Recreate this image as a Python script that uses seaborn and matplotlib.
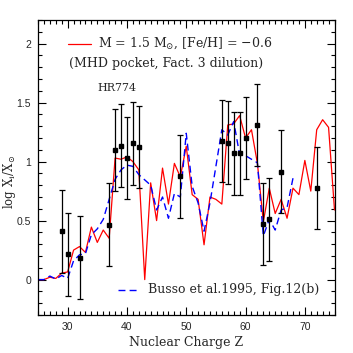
import numpy as np
import pandas as pd
import matplotlib
matplotlib.use("Agg")
import matplotlib.pyplot as plt
import seaborn as sns
from matplotlib.ticker import MultipleLocator

# ---- data ----
model_z = list(range(25, 76))
model_red = [0.0, 0.0, 0.02, 0.01, 0.055, 0.065, 0.25, 0.28, 0.23, 0.445,
             0.315, 0.42, 0.35, 1.03, 1.02, 1.04, 1.0, 0.93, 0.0, 0.82,
             0.50, 0.945, 0.64, 0.985, 0.87, 1.13, 0.72, 0.68, 0.295, 0.70,
             0.68, 0.64, 1.31, 1.32, 1.39, 1.20, 1.27, 0.985, 0.49, 0.775,
             0.56, 0.68, 0.52, 0.775, 0.72, 1.01, 0.75, 1.27, 1.355, 1.29,
             0.59]

busso_z = list(range(25, 69))
busso_blue = [0.0, 0.0, 0.03, 0.005, 0.035, 0.01, 0.16, 0.21, 0.22, 0.38,
              0.43, 0.51, 0.68, 0.85, 0.93, 0.97, 0.96, 0.89, 0.845, 0.80,
              0.59, 0.70, 0.52, 0.73, 0.70, 1.24, 0.79, 0.65, 0.41, 0.65,
              0.96, 1.27, 1.225, 1.34, 1.06, 1.05, 1.02, 0.99, 0.37, 0.51,
              0.42, 0.59, 0.61, 0.86]

obs_z = [29, 30, 32, 37, 38, 39, 40, 41, 42, 49, 56, 57, 58, 59, 60, 62, 63, 64, 66, 72]
obs_val = [0.41, 0.215, 0.185, 0.465, 1.10, 1.135, 1.03, 1.155, 1.125, 0.875,
           1.175, 1.16, 1.07, 1.07, 1.20, 1.31, 0.47, 0.51, 0.915, 0.775]
obs_err = [0.35] * len(obs_z)

x_ticks = [30, 40, 50, 60, 70]
y_ticks = [0, 0.5, 1, 1.5, 2]
x_ticklabels = ["30", "40", "50", "60", "70"]
y_ticklabels = ["0", "0.5", "1", "1.5", "2"]

label_red = r"M = 1.5 M$_{\odot}$, [Fe/H] = $-$0.6"
label_red2 = "(MHD pocket, Fact. 3 dilution)"
label_star = "HR774"
label_blue = "Busso et al.1995, Fig.12(b)"
xlabel = "Nuclear Charge Z"
ylabel = r"log X$_{\rm i}$/X$_{\odot}$"

# ---- style ----
sns.set_style("ticks")
plt.rcParams["mathtext.fontset"] = "dejavuserif"

fig = plt.figure(figsize=(3.53, 3.53), dpi=100)
ax = fig.add_axes([38/353, 1-315/353, (334.5-38)/353, (315-20)/353])

df_red = pd.DataFrame({"Z": model_z, "v": model_red})
df_blue = pd.DataFrame({"Z": busso_z, "v": busso_blue})

sns.lineplot(data=df_red, x="Z", y="v", ax=ax, color="red", lw=0.9)
sns.lineplot(data=df_blue, x="Z", y="v", ax=ax, color="blue", lw=1.0)
ax.lines[-1].set_dashes([5, 3])

ax.errorbar(obs_z, obs_val, yerr=obs_err, fmt="s", color="black",
            ms=2.5, lw=0.9, capsize=2.0, capthick=0.9, elinewidth=0.9)

ax.set_xlim(25, 75)
ax.set_ylim(-0.3, 2.2)

ax.set_xticks(x_ticks)
ax.set_xticklabels(x_ticklabels, family=["Liberation Sans"], fontsize=7.5)
ax.set_yticks(y_ticks)
ax.set_yticklabels(y_ticklabels, family=["Liberation Sans"], fontsize=7.5)
ax.xaxis.set_minor_locator(MultipleLocator(1))
ax.yaxis.set_minor_locator(MultipleLocator(0.1))
ax.tick_params(which="both", direction="in", top=True, right=True,
               color="black", width=0.8)
ax.tick_params(which="major", length=6, pad=5)
ax.tick_params(which="minor", length=3)
for s in ax.spines.values():
    s.set_linewidth(0.9)
    s.set_color("black")

ax.set_xlabel(xlabel, family=["DejaVu Serif"], fontsize=9)
ax.set_ylabel(ylabel, family=["DejaVu Serif"], fontsize=8.5)
ax.xaxis.set_label_coords(0.5, -0.072)
ax.yaxis.set_label_coords(-0.067, 0.45)

# legend-like annotations
ax.plot([30.1, 33.9], [2.0, 2.0], color="red", lw=0.9)
ax.text(35.1, 2.0, label_red, family=["DejaVu Serif"], fontsize=9, va="center", ha="left")
ax.text(30.2, 1.834, label_red2, family=["DejaVu Serif"], fontsize=9, va="center", ha="left")
ax.text(35.1, 1.62, label_star, family=["DejaVu Serif"], fontsize=8, va="center", ha="left")
ax.plot([38.5, 42.2], [-0.09, -0.09], color="blue", lw=1.0, dashes=[5, 3])
ax.text(43.6, -0.085, label_blue, family=["DejaVu Serif"], fontsize=9, va="center", ha="left")

fig.savefig("out.png", dpi=100)
